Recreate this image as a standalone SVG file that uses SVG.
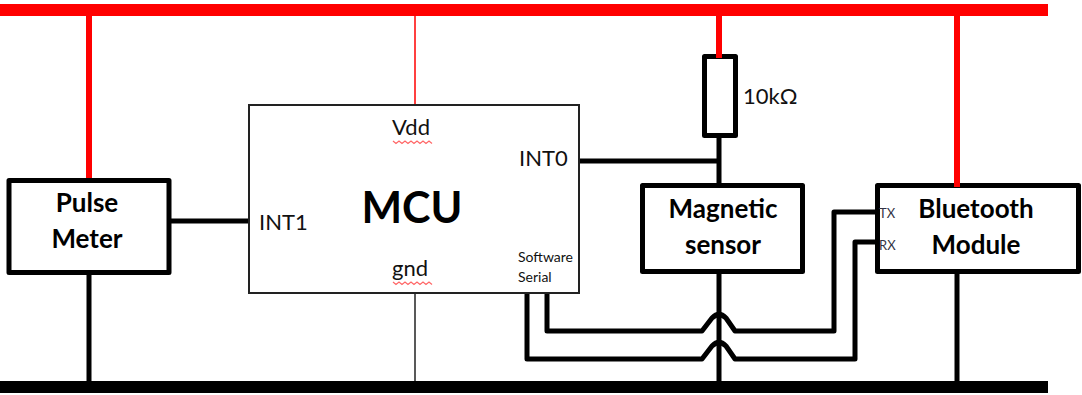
<svg xmlns="http://www.w3.org/2000/svg" width="1082" height="395" viewBox="0 0 1082 395">
<style>
.box{fill:#fff;stroke:#000;stroke-width:5;stroke-linejoin:round}
.w{fill:none;stroke:#000;stroke-width:5;stroke-linejoin:round}
.r{fill:none;stroke:#f00;stroke-width:6}
.sq{fill:none;stroke:#f66;stroke-width:1.2}
text{font-family:"Lato","Open Sans",sans-serif;fill:#111}
.b{font-weight:700;font-size:26px;text-anchor:middle;fill:#000}
.l{font-size:22px}
.s{font-size:14px}
</style>
<rect width="1082" height="395" fill="#fff"/>
<g id="connectors">
<path d="M0 10H1048" fill="none" stroke="#f00" stroke-width="12"/>
<path d="M0 387H1048" fill="none" stroke="#000" stroke-width="12"/>
<path class="r" d="M89 16V180M719 16V58M957 16V186"/>
<path d="M415 16V105" fill="none" stroke="#f00" stroke-width="1.5"/>
<path d="M415 293V381" fill="none" stroke="#222" stroke-width="1.5"/>
<path class="w" d="M89 273V381M719 135V186M579 161H719M171 221H249M719 271V381M957 271V381"/>
<path class="w" d="M547 293V331H702L712 318Q719 311 726 318L735 331H834V212H878"/>
<path class="w" d="M527 293V359H702L712 346Q719 339 726 346L735 359H855V242H878"/>
</g>
<g id="pulse-meter">
<rect class="box" x="9" y="180.500" width="160" height="92"/>
<text class="b" x="87" y="212">Pulse</text>
<text class="b" x="87" y="248">Meter</text>
</g>
<g id="mcu">
<rect x="249" y="105" width="330" height="188" fill="#fff" stroke="#222" stroke-width="2"/>
<text x="412" y="223" font-size="43" font-weight="700" text-anchor="middle" style="fill:#000">MCU</text>
<text class="l" x="392" y="135">Vdd</text>
<path class="sq" d="M393 141l3 2.500 3-2.500 3 2.500 3-2.500 3 2.500 3-2.500 3 2.500 3-2.500 3 2.500 3-2.500 3 2.500 3-2.500 3 2.500"/>
<text class="l" x="392" y="276">gnd</text>
<path class="sq" d="M393 282l3 2.500 3-2.500 3 2.500 3-2.500 3 2.500 3-2.500 3 2.500 3-2.500 3 2.500 3-2.500 3 2.500 3-2.500 3 2.500"/>
<text class="l" x="259" y="230">INT1</text>
<text class="l" x="519" y="166">INT0</text>
<text class="s" x="518" y="262">Software</text>
<text class="s" x="518" y="282">Serial</text>
</g>
<g id="resistor">
<rect class="box" x="704.500" y="56.500" width="31" height="79"/>
<path class="r" d="M719 54V58"/>
<text class="l" x="743" y="104">10kΩ</text>
</g>
<g id="magnetic-sensor">
<rect class="box" x="642.500" y="185.500" width="160" height="86"/>
<text class="b" x="723" y="218">Magnetic</text>
<text class="b" x="723" y="254">sensor</text>
</g>
<g id="bluetooth-module">
<rect class="box" x="877.500" y="185.500" width="201" height="86"/>
<path class="r" d="M957 180V187"/>
<text class="b" x="976" y="218">Bluetooth</text>
<text class="b" x="976" y="254">Module</text>
<text x="879" y="218" font-size="13" style="fill:#334">TX</text>
<text x="879" y="250" font-size="13" style="fill:#334">RX</text>
</g>
</svg>
